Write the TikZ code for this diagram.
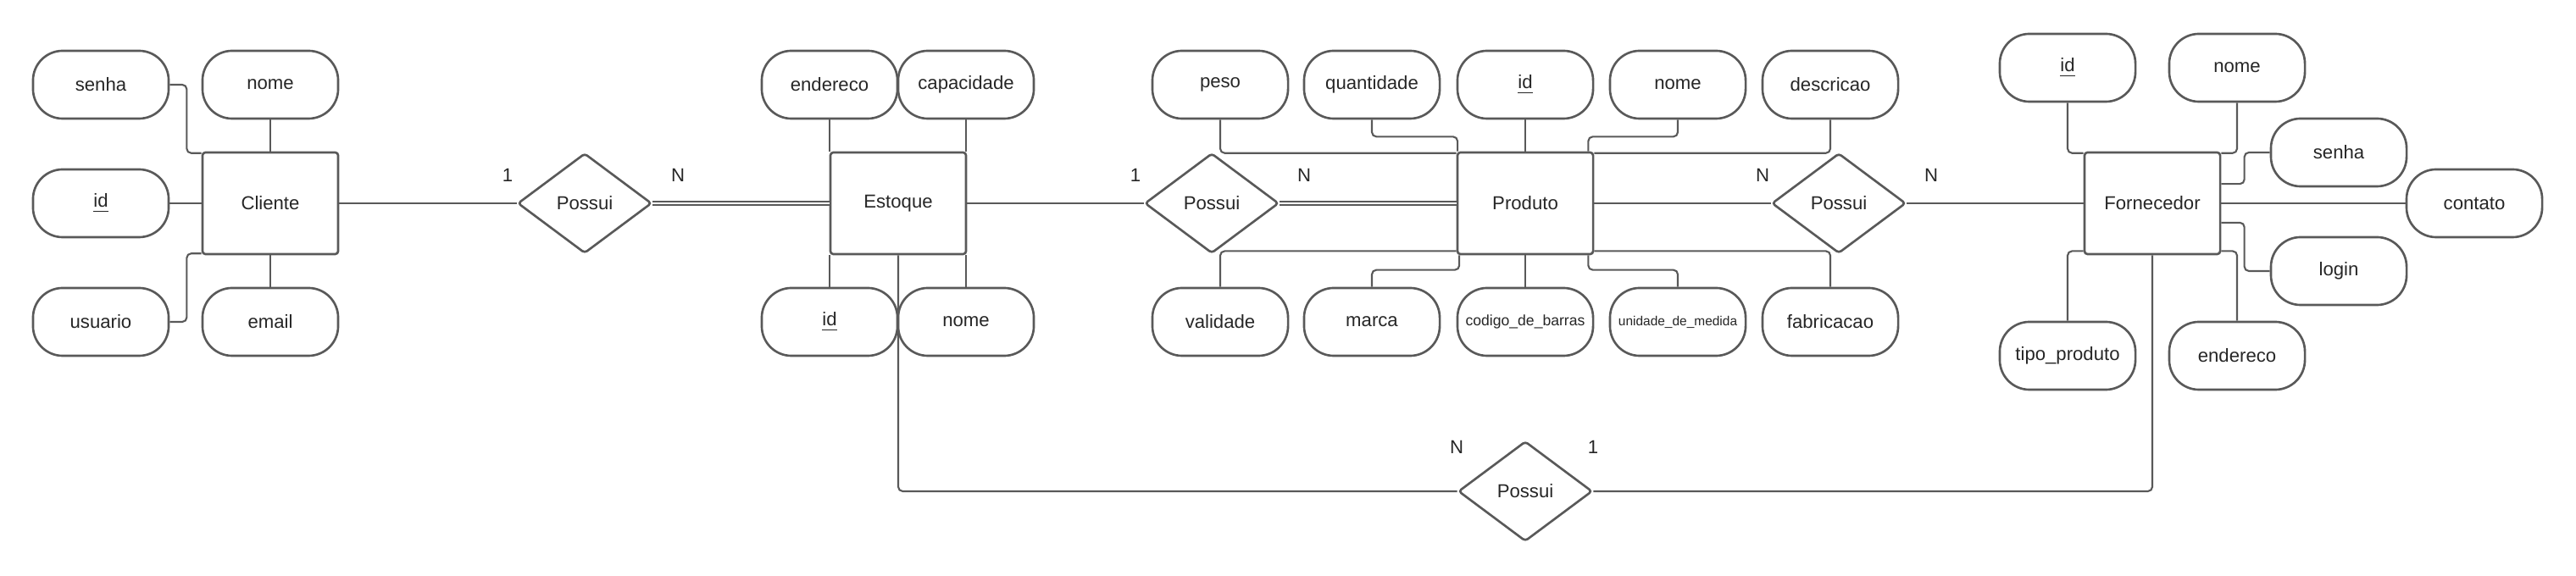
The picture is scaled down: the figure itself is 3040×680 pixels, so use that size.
\documentclass[tikz,border=0pt]{standalone}
\usepackage{fontspec}
\setmainfont{Liberation Sans}
\usetikzlibrary{shapes.geometric}
\definecolor{linha}{HTML}{595959}
\definecolor{texto}{HTML}{262626}

\begin{document}
\begin{tikzpicture}[x=0.01cm,y=-0.01cm,
	entidade/.style={draw=linha,line width=0.75pt,rounded corners=1pt,minimum width=1.6cm,minimum height=1.2cm,text=texto,font=\fontsize{6.3}{7.5}\selectfont},
	atributo/.style={draw=linha,line width=0.75pt,rounded corners=0.35cm,minimum width=1.6cm,minimum height=0.8cm,inner sep=1pt,text=texto,font=\fontsize{6.3}{7.5}\selectfont},
	relacao/.style={draw=linha,line width=0.75pt,diamond,rounded corners=1pt,minimum width=1.58cm,minimum height=1.18cm,inner sep=0pt,text=texto,font=\fontsize{6.3}{7.5}\selectfont},
	cardinal/.style={text=texto,font=\fontsize{6.3}{7.5}\selectfont},
	conexao/.style={draw=linha,line width=0.6pt,rounded corners=1.5pt},
	dupla/.style={draw=linha,line width=0.5pt,double,double distance=0.8pt}]
	\useasboundingbox (0,0) rectangle (3040,680);
	% entidades
	\node[entidade] (cliente) at (319,240) {Cliente};
	\node[entidade] (estoque) at (1060,240) {Estoque};
	\node[entidade] (produto) at (1800,240) {Produto};
	\node[entidade] (fornecedor) at (2540,240) {Fornecedor};
	% relacionamentos
	\node[relacao] (rel1) at (690,240) {Possui};
	\node[relacao] (rel2) at (1430,240) {Possui};
	\node[relacao] (rel3) at (2170,240) {Possui};
	\node[relacao] (rel4) at (1800,580) {Possui};
	% atributos do cliente
	\node[atributo] (cli-senha) at (119,100) {senha};
	\node[atributo] (cli-nome) at (319,100) {nome};
	\node[atributo] (cli-id) at (119,240) {\underline{id}};
	\node[atributo] (cli-usu) at (119,380) {usuario};
	\node[atributo] (cli-email) at (319,380) {email};
	% atributos do estoque
	\node[atributo] (est-end) at (979,100) {endereco};
	\node[atributo] (est-cap) at (1140,100) {capacidade};
	\node[atributo] (est-id) at (979,380) {\underline{id}};
	\node[atributo] (est-nome) at (1140,380) {nome};
	% atributos do produto
	\node[atributo] (pro-peso) at (1440,100) {peso};
	\node[atributo] (pro-qtd) at (1619,100) {quantidade};
	\node[atributo] (pro-id) at (1800,100) {\underline{id}};
	\node[atributo] (pro-nome) at (1980,100) {nome};
	\node[atributo] (pro-desc) at (2160,100) {descricao};
	\node[atributo] (pro-val) at (1440,380) {validade};
	\node[atributo] (pro-marca) at (1619,380) {marca};
	\node[atributo,font=\fontsize{5}{6}\selectfont] (pro-cod) at (1800,380) {codigo\_de\_barras};
	\node[atributo,font=\fontsize{4.4}{5}\selectfont] (pro-uni) at (1980,380) {unidade\_de\_medida};
	\node[atributo] (pro-fab) at (2160,380) {fabricacao};
	% atributos do fornecedor
	\node[atributo] (for-id) at (2440,80) {\underline{id}};
	\node[atributo] (for-nome) at (2640,80) {nome};
	\node[atributo] (for-senha) at (2760,180) {senha};
	\node[atributo] (for-contato) at (2920,240) {contato};
	\node[atributo] (for-login) at (2760,320) {login};
	\node[atributo] (for-tipo) at (2440,420) {tipo\_produto};
	\node[atributo] (for-end) at (2640,420) {endereco};
	% ligacoes do cliente
	\draw[conexao] (cli-senha.east) -- ++(20,0) |- ([yshift=-.6pt]cliente.north west);
	\draw[conexao] (cli-nome) -- (cliente);
	\draw[conexao] (cli-id) -- (cliente);
	\draw[conexao] (cli-usu.east) -- ++(20,0) |- ([yshift=.6pt]cliente.south west);
	\draw[conexao] (cli-email) -- (cliente);
	% ligacoes do estoque
	\draw[conexao] (est-end) -- (est-end |- estoque.north);
	\draw[conexao] (est-cap) -- (est-cap |- estoque.north);
	\draw[conexao] (est-id) -- (est-id |- estoque.south);
	\draw[conexao] (est-nome) -- (est-nome |- estoque.south);
	% ligacoes do produto
	\draw[conexao] (pro-peso) |- ([yshift=-.6pt]produto.north west);
	\draw[conexao] (pro-qtd.south) -- ++(0,20) -| ([xshift=.4pt]produto.north west);
	\draw[conexao] (pro-id) -- (produto);
	\draw[conexao] (pro-nome.south) -- ++(0,20) -| ([xshift=-2pt]produto.north east);
	\draw[conexao] (pro-desc) |- ([yshift=-.6pt]produto.north east);
	\draw[conexao] (pro-val) |- ([yshift=1.4pt]produto.south west);
	\draw[conexao] (pro-marca.north) -- ++(0,-20) -| ([xshift=1pt]produto.south west);
	\draw[conexao] (pro-cod) -- (produto);
	\draw[conexao] (pro-uni.north) -- ++(0,-20) -| ([xshift=-2pt]produto.south east);
	\draw[conexao] (pro-fab) |- ([yshift=1.4pt]produto.south east);
	% ligacoes do fornecedor
	\draw[conexao] (for-id) |- ([yshift=-.6pt]fornecedor.north west);
	\draw[conexao] (for-nome) |- ([yshift=-.6pt]fornecedor.north east);
	\draw[conexao] (for-senha.west) -- ++(-30,0) |- ([yshift=6.5pt]fornecedor.east);
	\draw[conexao] (fornecedor) -- (for-contato);
	\draw[conexao] (for-login.west) -- ++(-30,0) |- ([yshift=-6.5pt]fornecedor.east);
	\draw[conexao] (for-tipo) |- ([yshift=1.4pt]fornecedor.south west);
	\draw[conexao] (for-end) |- ([yshift=1.4pt]fornecedor.south east);
	% relacionamentos
	\draw[conexao] (cliente) -- (rel1);
	\draw[dupla] (rel1.east) -- (estoque.west);
	\draw[conexao] (estoque) -- (rel2);
	\draw[dupla] (rel2.east) -- (produto.west);
	\draw[conexao] (produto) -- (rel3);
	\draw[conexao] (rel3) -- (fornecedor);
	\draw[conexao] (estoque) |- (rel4);
	\draw[conexao] (fornecedor) |- (rel4);
	% cardinalidades
	\node[cardinal] (c1a) at (599,207) {1};
	\node[cardinal] (c1b) at (800,207) {N};
	\node[cardinal] (c2a) at (1340,207) {1};
	\node[cardinal] (c2b) at (1539,207) {N};
	\node[cardinal] (c3a) at (2080,207) {N};
	\node[cardinal] (c3b) at (2279,207) {N};
	\node[cardinal] (c4a) at (1719,528) {N};
	\node[cardinal] (c4b) at (1880,528) {1};
\end{tikzpicture}
\end{document}
